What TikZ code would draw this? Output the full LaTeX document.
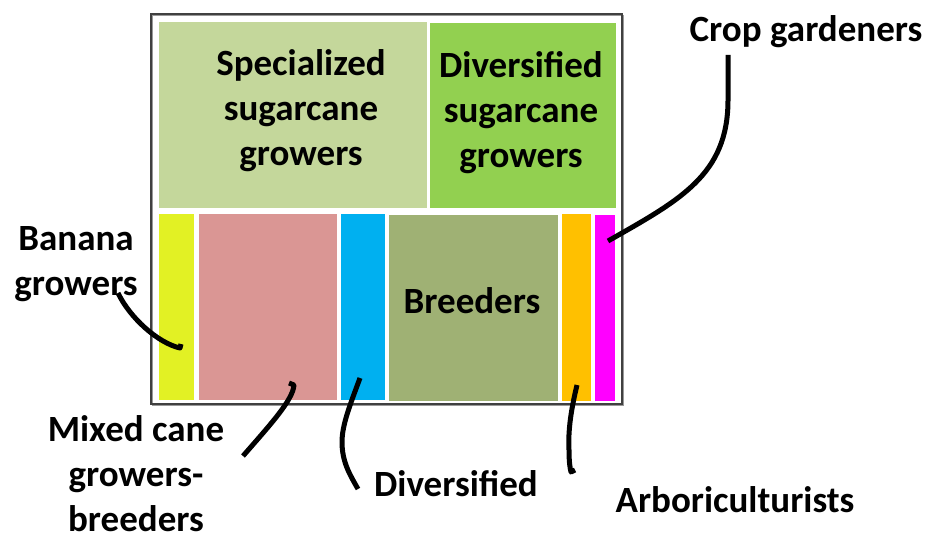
\documentclass[tikz,border=0pt]{standalone}
\usepackage{fontspec}
\setmainfont{Carlito}
\definecolor{cspec}{HTML}{C4D79B}
\definecolor{cdivsug}{HTML}{92D050}
\definecolor{cbanana}{HTML}{E2F124}
\definecolor{cmixed}{HTML}{DA9694}
\definecolor{cdivers}{HTML}{00B0F0}
\definecolor{cbreed}{HTML}{9FB174}
\definecolor{carbor}{HTML}{FFC000}
\definecolor{ccrop}{HTML}{FF00FF}
\begin{document}
\begin{tikzpicture}[x=1pt,y=-1pt,
  lbl/.style={font=\bfseries\fontsize{37}{45}\selectfont, inner sep=0pt, outer sep=0pt, align=center, text=black},
  cell/.style={draw=none, inner sep=0pt, outer sep=0pt},
  conn/.style={line width=5pt, black, line join=round}]
\useasboundingbox (0,0) rectangle (928,540);
\fill[white] (0,0) rectangle (928,540);
% frame
\draw[black!40, line width=1.5pt] (152.5,15.5) rectangle (623.5,405.5);
\draw[black!75, line width=1.2pt] (151,14) rectangle (622,404);
% cells
\node[cell, fill=cspec,   minimum width=268pt, minimum height=186pt] (spec)   at (293,115) {};
\node[cell, fill=cdivsug, minimum width=186pt, minimum height=185pt] (divsug) at (523,115.5) {};
\node[cell, fill=cbanana, minimum width=35pt,  minimum height=186pt] (banana) at (176.5,307) {};
\node[cell, fill=cmixed,  minimum width=138pt, minimum height=186pt] (mixed)  at (268,307) {};
\node[cell, fill=cdivers, minimum width=44pt,  minimum height=186pt] (divers) at (363,307) {};
\node[cell, fill=cbreed,  minimum width=169pt, minimum height=186pt] (breed)  at (473.5,308) {};
\node[cell, fill=carbor,  minimum width=29pt,  minimum height=187pt] (arbor)  at (576.5,307.5) {};
\node[cell, fill=ccrop,   minimum width=20pt,  minimum height=186pt] (crop)   at (605,308) {};
% labels inside
\node[lbl] (tspec)   at (301,111) {Specialized\\sugarcane\\growers};
\node[lbl] (tdivsug) at (521,113) {Diversified\\sugarcane\\growers};
\node[lbl, anchor=base] (tbreed) at (472,313) {Breeders};
% outside labels
\node[lbl] (tbanana) at (76,264) {Banana\\growers};
\node[lbl, anchor=base] (tcrop) at (806,42) {Crop gardeners};
\node[lbl] (tmixed) at (136,474) {Mixed cane\\growers-\\breeders};
\node[lbl, anchor=base] (tdivers) at (456,496) {Diversified};
\node[lbl, anchor=base] (tarbor) at (735,512) {Arboriculturists};
% connector ends
\coordinate (pbanana) at (180,348);
\coordinate (sbanana) at (118,293);
\coordinate (pmixed) at (294,385);
\coordinate (smixed) at (243,456);
\coordinate (pdivers) at (360,378);
\coordinate (sdivers) at (358,489);
\coordinate (parbor) at (577,385);
\coordinate (sarbor) at (571,472);
\coordinate (pcrop) at (608,241);
\coordinate (scrop) at (728,55);
% connectors
\draw[conn] (sbanana) .. controls (130,318) and (158,343) .. (pbanana) -- ++(1,-4);
\draw[conn] (289,383) -- (pmixed) .. controls (293,400) and (270,425) .. (smixed);
\draw[conn] (pdivers) .. controls (350,405) and (342,425) .. (342,442) .. controls (342,462) and (350,475) .. (sdivers);
\draw[conn] (parbor) .. controls (571,410) and (568,430) .. (569,450) .. controls (569,462) and (570,468) .. (sarbor) -- ++(4,-2);
\draw[conn] (scrop) -- (728,100) .. controls (728,175) and (680,200) .. (pcrop);
\end{tikzpicture}
\end{document}
